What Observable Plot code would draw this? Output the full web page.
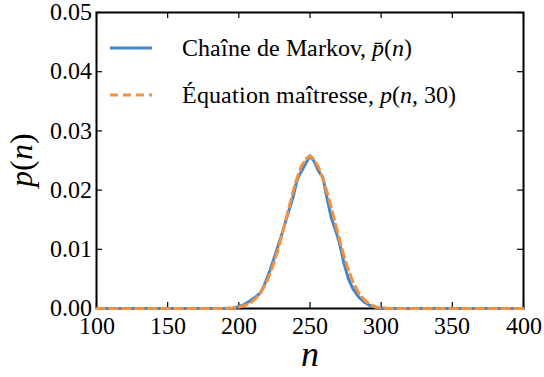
<!DOCTYPE html>
<html><head><meta charset="utf-8">
<script src="https://cdn.jsdelivr.net/npm/d3@7"></script>
<script src="https://cdn.jsdelivr.net/npm/@observablehq/plot@0.6"></script>
<style>
@font-face{font-family:"CMish";font-style:normal;font-weight:400;src:local("Liberation Serif"),local("LiberationSerif"),local("DejaVu Serif")}
@font-face{font-family:"CMish";font-style:italic;font-weight:400;src:local("Liberation Serif Italic"),local("LiberationSerif-Italic"),local("DejaVu Serif Italic")}
body{margin:0;background:#fff} svg{display:block}
.f2{font-family:"CMish","Liberation Serif",serif}
svg text, svg tspan{font-family:"CMish","Liberation Serif",serif !important}
</style>
</head><body><div id="chart"></div>
<script>
// Markov chain estimate p̄(n)
const markovN = [100,190,196,200,204,208,212,215,218,222,226,230,234,238,241,244,247,250,253,256,259,262,265,268,271,274,277,280,284,288,292,296,300,305,400];
const markovP = [0,0,0.0001,0.0003,0.0007,0.0013,0.0020,0.0026,0.0040,0.0065,0.0094,0.0124,0.0156,0.0187,0.0218,0.0232,0.0245,0.0258,0.0248,0.0232,0.0222,0.0186,0.0153,0.0132,0.0108,0.0075,0.0050,0.0034,0.0020,0.0011,0.0005,0.0002,0.0001,0,0];
// Master equation p(n,30)
const masterN = [100,190,196,200,204,208,212,216,220,224,228,232,236,240,244,248,250,252,256,260,264,268,272,276,280,284,288,292,296,300,305,400];
const masterP = [0,0,0.0001,0.0002,0.0005,0.0009,0.0017,0.0029,0.0047,0.0072,0.0103,0.0140,0.0178,0.0214,0.0241,0.0255,0.0257,0.0254,0.0239,0.0213,0.0179,0.0142,0.0105,0.0072,0.0046,0.0027,0.0015,0.0007,0.0003,0.0001,0,0];
const xTicks = [100,150,200,250,300,350,400];
const yTicks = [0,0.01,0.02,0.03,0.04,0.05];
const seriesNames = ["Chaîne de Markov, ", "Équation maîtresse, "];

const markov = markovN.map((n, i) => ({n, p: markovP[i]}));
const master = masterN.map((n, i) => ({n, p: masterP[i]}));

const blue = "#4286c6", orange = "#f7913f";
const W = 544, H = 377, mL = 96, mT = 12, mR = 21, mB = 69;
const pw = W - mL - mR, ph = H - mT - mB;
const fam = "CMish, Liberation Serif, serif";

const chart = Plot.plot({
  width: W, height: H,
  marginLeft: mL, marginTop: mT, marginRight: mR, marginBottom: mB,
  x: {domain: [100, 400]},
  y: {domain: [0, 0.05]},
  marks: [
    Plot.frame({stroke: "black", strokeWidth: 2}),
    Plot.ruleX(xTicks, {stroke: "black", strokeWidth: 1.2, insetTop: ph - 6}),
    Plot.ruleX(xTicks, {stroke: "black", strokeWidth: 1.2, insetBottom: ph - 6}),
    Plot.ruleY(yTicks, {stroke: "black", strokeWidth: 1.2, insetRight: pw - 6}),
    Plot.ruleY(yTicks, {stroke: "black", strokeWidth: 1.2, insetLeft: pw - 6}),
    Plot.line(markov, {x: "n", y: "p", stroke: blue, strokeWidth: 3}),
    Plot.line(master, {x: "n", y: "p", stroke: orange, strokeWidth: 3, strokeDasharray: "8,5"}),
    Plot.axisX(xTicks, {tickSize: 0, tickPadding: 8, label: null, fontSize: 24, fill: "black", fontFamily: fam}),
    Plot.axisY(yTicks, {tickSize: 0, tickPadding: 5, label: null, fontSize: 24, fill: "black", fontFamily: fam, tickFormat: d3.format(".2f")})
  ]
});
chart.setAttribute("font-family", fam);
document.getElementById("chart").appendChild(chart);

const svg = d3.select(chart);
const g = svg.append("g").attr("fill", "black").attr("text-anchor", "start")
  .attr("font-family", fam).style("font-size", "24px");
// legend
const leg = [
  {y: 48, color: blue, dash: null, name: seriesNames[0], math: [["p̄", true], ["(", false], ["n", true], [")", false]]},
  {y: 95, color: orange, dash: "8,5", name: seriesNames[1], math: [["p", true], ["(", false], ["n", true], [", 30)", false]]}
];
leg.forEach(d => {
  const l = g.append("line").attr("x1", 110).attr("x2", 152).attr("y1", d.y).attr("y2", d.y)
    .attr("stroke", d.color).attr("stroke-width", 3);
  if (d.dash) l.attr("stroke-dasharray", d.dash);
  const t = g.append("text").attr("class", "f2").attr("x", 182).attr("y", d.y + 8);
  t.append("tspan").text(d.name);
  d.math.forEach(([s, it]) => t.append("tspan").attr("font-style", it ? "italic" : "normal").text(s));
});
// y label
const yl = g.append("text").attr("class", "f2").attr("transform", "translate(32,160) rotate(-90)")
  .attr("text-anchor", "middle").style("font-size", "32px");
[["p", true], ["(", false], ["n", true], [")", false]].forEach(([s, it]) =>
  yl.append("tspan").attr("font-style", it ? "italic" : "normal").text(s));
// x label
g.append("text").attr("class", "f2").attr("x", 310).attr("y", 366).attr("text-anchor", "middle")
  .style("font-size", "36px").attr("font-style", "italic").text("n");
</script>
</body></html>
